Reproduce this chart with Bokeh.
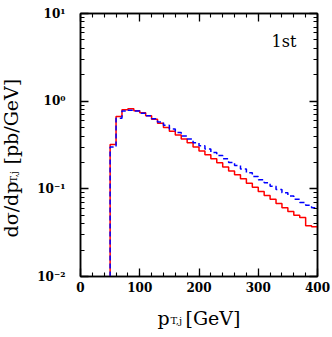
import numpy as np
from bokeh.plotting import figure
from bokeh.layouts import row, column
from bokeh.models import (Range1d, LinearAxis, LogAxis, SingleIntervalTicker, LogTicker,
                          Label, CustomJSTickFormatter)
from bokeh.embed import file_html
from bokeh.resources import INLINE

# bin edges (GeV) and bin contents (pb/GeV)
bin_edges = [50, 60, 70, 80, 90, 100, 110, 120, 130, 140, 150, 160, 170, 180, 190, 200,
             210, 220, 230, 240, 250, 260, 270, 280, 290, 300, 310, 320, 330, 340, 350,
             360, 370, 380, 390, 400]
red_vals = [0.32, 0.67, 0.80, 0.82, 0.78, 0.74, 0.68, 0.62, 0.56, 0.50, 0.455, 0.41,
            0.37, 0.335, 0.30, 0.27, 0.245, 0.22, 0.198, 0.178, 0.160, 0.145, 0.130,
            0.116, 0.104, 0.093, 0.084, 0.076, 0.068, 0.061, 0.055, 0.050, 0.047,
            0.038, 0.037]
blue_vals = [0.30, 0.64, 0.77, 0.79, 0.77, 0.73, 0.68, 0.63, 0.58, 0.53, 0.48, 0.44,
             0.40, 0.37, 0.335, 0.31, 0.285, 0.26, 0.24, 0.22, 0.20, 0.185, 0.168,
             0.153, 0.138, 0.127, 0.117, 0.107, 0.098, 0.090, 0.083, 0.076, 0.070,
             0.065, 0.061]
y_floor = 0.01

def step_xy(edges, vals):
    xs = [edges[0]] + list(edges)
    ys = [y_floor] + list(vals) + [vals[-1]]
    return xs, ys

SERIF = "DejaVu Serif"

p = figure(width=302, height=300, y_axis_type="log",
           x_range=Range1d(0, 400), y_range=Range1d(0.01, 10),
           output_backend="svg", toolbar_location=None,
           min_border_left=50, min_border_right=15, min_border_top=13, min_border_bottom=24,
           background_fill_color="white", border_fill_color="white")
p.grid.visible = False
p.outline_line_color = "black"
p.outline_line_width = 1.5

xr, yr = step_xy(bin_edges, red_vals)
xb, yb = step_xy(bin_edges, blue_vals)
p.step(xr, yr, mode="after", line_color="#ff0000", line_width=1.5)
p.step(xb, yb, mode="after", line_color="#0000ff", line_width=1.5, line_dash="5 3")

sup = CustomJSTickFormatter(code="""
const m = {'-':'\u207b','0':'\u2070','1':'\u00b9','2':'\u00b2','3':'\u00b3'};
const e = Math.round(Math.log10(tick)).toString();
let s = '';
for (const c of e) s += m[c];
return '10' + s;
""")
blank = CustomJSTickFormatter(code="return '';")

def style(ax, labels=True):
    ax.axis_line_color = "black"
    ax.axis_line_width = 1.5
    ax.major_tick_in = 8
    ax.major_tick_out = 0
    ax.minor_tick_in = 4
    ax.minor_tick_out = 0
    ax.major_tick_line_width = 1.3
    ax.minor_tick_line_width = 1.1
    ax.major_label_text_font = SERIF
    ax.major_label_text_font_style = "bold"
    ax.major_label_text_font_size = "12px"
    ax.major_label_text_color = "black"
    if not labels:
        ax.formatter = blank
        ax.major_label_standoff = 0
        ax.major_label_text_font_size = "0px"
        ax.axis_label_standoff = 0

xt = SingleIntervalTicker(interval=100, num_minor_ticks=5)
yt = LogTicker(num_minor_ticks=10)
p.xaxis.ticker = xt
p.yaxis.ticker = yt
p.yaxis.formatter = sup
style(p.xaxis[0])
style(p.yaxis[0])
p.xaxis.major_label_standoff = 5
p.yaxis.major_label_standoff = 15

top = LinearAxis(ticker=xt)
style(top, False)
right = LogAxis(ticker=yt)
style(right, False)
p.add_layout(top, "above")
p.add_layout(right, "right")

p.add_layout(Label(x=191, y=226, x_units="screen", y_units="screen", text="1st",
                   text_font=SERIF, text_font_size="16px", text_color="black"))

def text_fig(w, h):
    f = figure(width=w, height=h, x_range=Range1d(0, 1), y_range=Range1d(0, 1),
               x_axis_type=None, y_axis_type=None, output_backend="svg",
               toolbar_location=None, min_border=0,
               background_fill_color="white", border_fill_color="white")
    f.outline_line_color = None
    f.grid.visible = False
    return f

def lab(f, text, x, y, size, angle=0.0):
    f.add_layout(Label(x=x, y=y, x_units="screen", y_units="screen", text=text,
                       text_font=SERIF, text_font_size=size, angle=angle,
                       text_color="black", text_align="left", text_baseline="alphabetic"))

# y-axis title (left strip, 30 px wide)
ylab = text_fig(30, 329)
lab(ylab, "d\u03c3/dp", 10, 92, "19px", np.pi / 2)
lab(ylab, "T,j", 13, 147, "10px", np.pi / 2)
lab(ylab, "[pb/GeV]", 10, 165, "19px", np.pi / 2)

# x-axis title (bottom strip, 29 px tall)
xlab = text_fig(302, 29)
lab(xlab, "p", 77, 12, "19px")
lab(xlab, "T,j", 90, 9, "10px")
lab(xlab, "[GeV]", 105, 12, "19px")

layout = row(ylab, column(p, xlab, spacing=0), spacing=0)

open("out.html", "w").write(file_html(layout, INLINE))
